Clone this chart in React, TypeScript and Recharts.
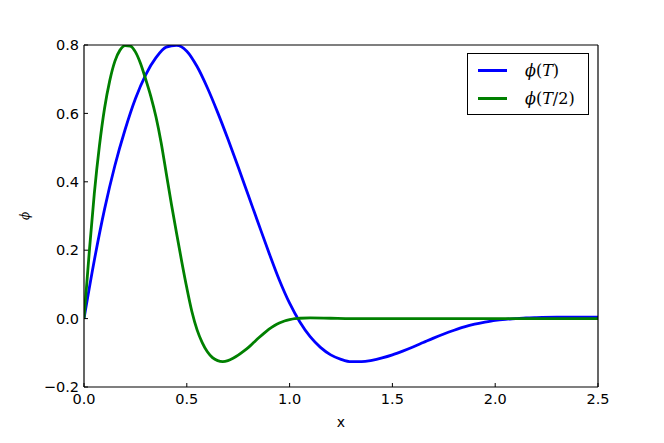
import { LineChart, Line, XAxis, YAxis, Legend, Label } from 'recharts'

// phi(T) at 0.05 steps
const blueX = [
  0, 0.05, 0.1, 0.15, 0.2, 0.25, 0.3, 0.35, 0.4, 0.45, 0.5, 0.55, 0.6, 0.65, 0.7, 0.75, 0.8, 0.85, 0.9,
  0.95, 1.0, 1.05, 1.1, 1.15, 1.2, 1.25, 1.3, 1.35, 1.4, 1.45, 1.5, 1.55, 1.6, 1.65, 1.7, 1.75, 1.8,
  1.85, 1.9, 1.95, 2.0, 2.05, 2.1, 2.15, 2.2, 2.3, 2.4, 2.5
]
const blueY = [
  0, 0.17, 0.32, 0.447, 0.553, 0.643, 0.713, 0.763, 0.794, 0.799, 0.782, 0.737, 0.675, 0.603, 0.525,
  0.443, 0.359, 0.275, 0.192, 0.113, 0.045, -0.01, -0.053, -0.084, -0.106, -0.119, -0.126, -0.126,
  -0.122, -0.115, -0.106, -0.095, -0.083, -0.07, -0.057, -0.045, -0.034, -0.024, -0.016, -0.01,
  -0.005, -0.002, 0.0, 0.002, 0.003, 0.004, 0.004, 0.004
]

// phi(T/2)
const greenX = [
  0, 0.025, 0.05, 0.075, 0.1, 0.125, 0.15, 0.175, 0.2, 0.225, 0.25, 0.275, 0.3, 0.325, 0.35, 0.375,
  0.4, 0.425, 0.45, 0.475, 0.5, 0.525, 0.55, 0.575, 0.6, 0.625, 0.65, 0.675, 0.7, 0.725, 0.75, 0.775,
  0.8, 0.825, 0.85, 0.875, 0.9, 0.925, 0.95, 0.975, 1.0, 1.025, 1.05, 1.1, 1.2, 1.3, 1.4, 1.5, 1.6,
  1.7, 1.8, 1.9, 2.0, 2.1, 2.2, 2.3, 2.4, 2.5
]
const greenY = [
  0, 0.19, 0.365, 0.505, 0.615, 0.695, 0.752, 0.785, 0.798, 0.797, 0.78, 0.746, 0.7, 0.65, 0.59,
  0.515, 0.425, 0.335, 0.25, 0.168, 0.09, 0.02, -0.033, -0.07, -0.097, -0.114, -0.123, -0.126, -0.123,
  -0.116, -0.107, -0.096, -0.084, -0.07, -0.056, -0.043, -0.031, -0.021, -0.013, -0.007, -0.003, 0.0,
  0.001, 0.002, 0.001, 0.0, 0.0, 0.0, 0.0, 0.0, 0.0, 0.0, 0.0, 0.0, 0.0, 0.0, 0.0, 0.0
]

const xTicks = [0, 0.5, 1.0, 1.5, 2.0, 2.5]
const yTicks = [-0.2, 0, 0.2, 0.4, 0.6, 0.8]

const blueData = blueX.map((x, i) => ({ x, y: blueY[i] }))
const greenData = greenX.map((x, i) => ({ x, y: greenY[i] }))

const font = 'DejaVu Sans, sans-serif'
const fmt = (v: number) => v.toFixed(1).replace('-', '\u2212')

function MathLabel({ text }: { text: string }) {
  // italic math symbols, upright punctuation
  const parts = text.split(/([()/0-9])/).filter(Boolean)
  return (
    <span style={{ fontFamily: 'DejaVu Serif, serif', fontSize: 16 }}>
      {parts.map((p, i) =>
        /[()/0-9]/.test(p) ? <span key={i}>{p}</span> : <i key={i}>{p}</i>
      )}
    </span>
  )
}

function LegendBox() {
  const items = [
    { name: '\u03d5(T)', color: '#0000ff' },
    { name: '\u03d5(T/2)', color: '#008000' }
  ]
  return (
    <div
      style={{
        border: '1.5px solid #000',
        background: '#fff',
        width: 122,
        height: 62,
        boxSizing: 'border-box',
        padding: '2px 0 0 10px'
      }}
    >
      {items.map((it) => (
        <div key={it.name} style={{ display: 'flex', alignItems: 'center', height: 28 }}>
          <div style={{ width: 29, height: 3, background: it.color, marginRight: 18 }} />
          <MathLabel text={it.name} />
        </div>
      ))}
    </div>
  )
}

export default function App() {
  return (
    <div style={{ position: 'absolute', left: 0, top: 0, background: '#fff' }}>
      <LineChart width={664} height={443} margin={{ top: 44, right: 65, bottom: 16, left: 0 }}>
        <XAxis
          dataKey="x"
          type="number"
          domain={[0, 2.5]}
          ticks={xTicks}
          tickFormatter={fmt}
          height={40}
          stroke="#000"
          tickSize={-4}
          tickMargin={11}
          tick={{ fill: '#000', fontSize: 14.5, fontFamily: font }}
          axisLine={{ stroke: '#000', strokeWidth: 1.2 }}
          allowDataOverflow
        >
          <Label value="x" position="insideBottom" offset={0} style={{ fill: '#000', fontSize: 14, fontFamily: font }} />
        </XAxis>
        <XAxis
          xAxisId="top"
          dataKey="x"
          orientation="top"
          type="number"
          domain={[0, 2.5]}
          ticks={xTicks}
          height={1}
          tick={false}
          tickSize={-4}
          stroke="#000"
          axisLine={{ stroke: '#000', strokeWidth: 1.2 }}
          allowDataOverflow
        />
        <YAxis
          type="number"
          domain={[-0.2, 0.8]}
          ticks={yTicks}
          tickFormatter={fmt}
          width={84}
          stroke="#000"
          tickSize={-4}
          tickMargin={9}
          tick={{ fill: '#000', fontSize: 14.5, fontFamily: font }}
          axisLine={{ stroke: '#000', strokeWidth: 1.2 }}
          allowDataOverflow
        >
          <Label
            content={() => (
              <text
                x={25}
                y={216}
                transform="rotate(-90 25 216)"
                textAnchor="middle"
                dominantBaseline="middle"
                style={{ fontFamily: 'DejaVu Serif, serif', fontStyle: 'italic', fontSize: 12, fill: '#000' }}
              >
                {'\u03d5'}
              </text>
            )}
          />
        </YAxis>
        <YAxis
          yAxisId="right"
          orientation="right"
          type="number"
          domain={[-0.2, 0.8]}
          ticks={yTicks}
          width={1}
          tick={false}
          tickSize={-4}
          stroke="#000"
          axisLine={{ stroke: '#000', strokeWidth: 1.2 }}
          allowDataOverflow
        />
        <Legend
          layout="horizontal"
          verticalAlign="middle"
          align="center"
          wrapperStyle={{ top: 53, left: 467, width: 122, right: 'auto' }}
          content={() => <LegendBox />}
        />
        {/* invisible series so the mirrored top/right axes get drawn */}
        <Line
          data={greenData}
          dataKey="y"
          xAxisId="top"
          yAxisId="right"
          stroke="none"
          dot={false}
          activeDot={false}
          legendType="none"
          isAnimationActive={false}
        />
        <Line
          data={blueData}
          dataKey="y"
          name="phi(T)"
          type="monotone"
          stroke="#0000ff"
          strokeWidth={2.8}
          dot={false}
          activeDot={false}
          isAnimationActive={false}
        />
        <Line
          data={greenData}
          dataKey="y"
          name="phi(T/2)"
          type="monotone"
          stroke="#008000"
          strokeWidth={2.8}
          dot={false}
          activeDot={false}
          isAnimationActive={false}
        />
      </LineChart>
    </div>
  )
}
